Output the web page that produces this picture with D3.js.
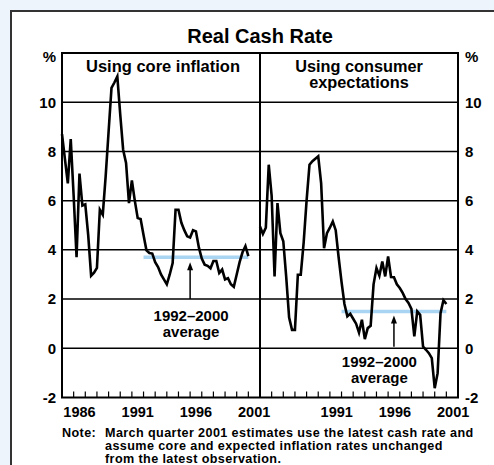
<!DOCTYPE html>
<html>
<head>
<meta charset="utf-8">
<script src="https://cdn.jsdelivr.net/npm/d3@7"></script>
<style>
  body { margin: 0; background: #eef4fb; }
  svg { display: block; font-family: 'Liberation Sans', Arial, Helvetica, sans-serif; font-weight: bold; }
</style>
</head>
<body>
<svg id="chart"></svg>
<script>
// quarterly observations, March quarter 1985 to March quarter 2001
const quarters = d3.range(65).map(i => 1985 + i * 0.25);

const coreReal = [8.7, 7.7, 6.7, 8.5, 6.2, 3.7, 7.1, 5.8, 5.85, 4.6,
  2.95, 3.07, 3.27, 5.63, 5.43, 7.0, 8.8, 10.58, 10.8, 11.05,
  9.5, 8.07, 7.53, 5.9, 6.82, 6.0, 5.29, 5.25, 4.6, 3.98,
  3.87, 3.85, 3.5, 3.3, 3.0, 2.8, 2.6, 3.0, 3.46, 5.63,
  5.63, 5.1, 4.8, 4.55, 4.5, 4.8, 4.75, 4.1, 3.65, 3.4,
  3.35, 3.25, 3.55, 3.55, 3.06, 3.2, 2.8, 2.85, 2.6, 2.5,
  3.0, 3.5, 3.9, 4.15, 3.75];

const expReal = [4.95, 4.65, 4.9, 7.46, 6.2, 2.92, 5.9, 4.68, 4.35, 2.9,
  1.25, 0.75, 0.75, 2.99, 2.99, 4.3, 6.0, 7.46, 7.6, 7.7,
  7.8, 6.7, 4.07, 4.68, 4.9, 5.15, 4.8, 3.7, 2.7, 1.8,
  1.3, 1.4, 1.2, 1.0, 0.64, 1.16, 0.37, 0.82, 0.91, 2.6,
  3.26, 2.95, 3.53, 2.92, 3.73, 2.9, 2.89, 2.6, 2.45, 2.25,
  2.0, 1.84, 1.6, 0.48, 1.5, 1.36, 0.07, -0.06, -0.2, -0.4,
  -1.62, -1.01, 1.43, 1.95, 1.8];

const coreAvg = 3.7;
const expAvg = 1.5;
const avgSpan = [1992, 2001];

const yTicks = [-2, 0, 2, 4, 6, 8, 10];
const leftYears = [1986, 1991, 1996, 2001];
const rightYears = [1991, 1996, 2001];
const noteLines = [
  'March quarter 2001 estimates use the latest cash rate and',
  'assume core and expected inflation rates unchanged',
  'from the latest observation.'
];

const width = 494;
const height = 465;

const svg = d3.select('#chart')
  .attr('width', width)
  .attr('height', height);

// white panel with frame
svg.append('rect')
  .attr('x', 11).attr('y', 11)
  .attr('width', 500).attr('height', 470)
  .attr('fill', '#fff')
  .attr('stroke', '#333')
  .attr('stroke-width', 2);

const plotTop = 53, plotBottom = 397.5, plotLeft = 62, plotMid = 260, plotRight = 458;

const y = d3.scaleLinear().domain([-2, 12]).range([plotBottom, plotTop]);
const xL = d3.scaleLinear().domain([1985, 2002]).range([plotLeft, plotMid]);
const xR = d3.scaleLinear().domain([1985, 2002]).range([plotMid, plotRight]);

// gridlines
svg.append('g').selectAll('line')
  .data(yTicks.filter(d => d > -2))
  .enter().append('line')
    .attr('x1', plotLeft).attr('x2', plotRight)
    .attr('y1', d => y(d)).attr('y2', d => y(d))
    .attr('stroke', '#000')
    .attr('stroke-width', 1.5);

// year ticks along bottom
[xL, xR].forEach(x => {
  svg.append('g').selectAll('line')
    .data(d3.range(1986, 2002))
    .enter().append('line')
      .attr('x1', d => x(d)).attr('x2', d => x(d))
      .attr('y1', plotBottom).attr('y2', plotBottom - 6)
      .attr('stroke', '#000')
      .attr('stroke-width', 1.2);
});

// 1992-2000 averages
const avgs = [[xL, coreAvg], [xR, expAvg]];
avgs.forEach(([x, v]) => {
  svg.append('line')
    .attr('x1', x(avgSpan[0])).attr('x2', x(avgSpan[1]))
    .attr('y1', y(v)).attr('y2', y(v))
    .attr('stroke', '#a9d4f2')
    .attr('stroke-width', 3.5);
});

// series
const series = [[xL, coreReal], [xR, expReal]];
series.forEach(([x, vals]) => {
  const line = d3.line()
    .x((d, i) => x(quarters[i]))
    .y(d => y(d));
  svg.append('path')
    .attr('d', line(vals))
    .attr('fill', 'none')
    .attr('stroke', '#000')
    .attr('stroke-width', 2.6)
    .attr('stroke-linejoin', 'miter');
});

// plot borders
svg.append('rect')
  .attr('x', plotLeft).attr('y', plotTop)
  .attr('width', plotRight - plotLeft).attr('height', plotBottom - plotTop)
  .attr('fill', 'none')
  .attr('stroke', '#000')
  .attr('stroke-width', 2);
svg.append('line')
  .attr('x1', plotMid).attr('x2', plotMid)
  .attr('y1', plotTop).attr('y2', plotBottom)
  .attr('stroke', '#000')
  .attr('stroke-width', 2);

// y labels both sides
const yl = svg.append('g').attr('font-size', 15);
yl.selectAll('.yl')
  .data(yTicks)
  .enter().append('text')
    .attr('x', 56).attr('y', d => y(d)).attr('dy', '0.36em')
    .attr('text-anchor', 'end')
    .text(d => d);
yl.selectAll('.yr')
  .data(yTicks)
  .enter().append('text')
    .attr('x', 465).attr('y', d => y(d)).attr('dy', '0.36em')
    .text(d => d);
yl.append('text').attr('x', 56).attr('y', 62).attr('text-anchor', 'end').text('%');
yl.append('text').attr('x', 465).attr('y', 62).text('%');

// x labels
const xl = svg.append('g').attr('font-size', 14.5).attr('text-anchor', 'middle');
xl.selectAll('.xl')
  .data(leftYears)
  .enter().append('text')
    .attr('x', d => xL(d + 0.5)).attr('y', 417)
    .text(d => d);
xl.selectAll('.xr')
  .data(rightYears)
  .enter().append('text')
    .attr('x', d => xR(d + 0.5) + 1).attr('y', 417)
    .text(d => d);

// titles
svg.append('text')
  .attr('x', plotMid).attr('y', 42.5)
  .attr('text-anchor', 'middle')
  .attr('font-size', 20)
  .text('Real Cash Rate');

svg.append('text')
  .attr('x', (plotLeft + plotMid) / 2 + 2).attr('y', 71.5)
  .attr('text-anchor', 'middle')
  .attr('font-size', 16.5)
  .text('Using core inflation');

const rtX = (plotMid + plotRight) / 2;
svg.append('text')
  .attr('x', rtX).attr('y', 71.5)
  .attr('text-anchor', 'middle')
  .attr('font-size', 16.3)
  .text('Using consumer');
svg.append('text')
  .attr('x', rtX).attr('y', 88)
  .attr('text-anchor', 'middle')
  .attr('font-size', 16.3)
  .text('expectations');

// arrows + labels
function arrow(x, yBase, yTip) {
  svg.append('line')
    .attr('x1', x).attr('x2', x)
    .attr('y1', yBase).attr('y2', yTip + 6)
    .attr('stroke', '#000')
    .attr('stroke-width', 1.5);
  svg.append('path')
    .attr('d', `M${x},${yTip} L${x - 3},${yTip + 8} L${x + 3},${yTip + 8} Z`)
    .attr('fill', '#000');
}
function label(x, y0) {
  const t = svg.append('text')
    .attr('text-anchor', 'middle')
    .attr('font-size', 15);
  t.append('tspan').attr('x', x).attr('y', y0).text('1992\u20132000');
  t.append('tspan').attr('x', x).attr('y', y0 + 16).text('average');
}
arrow(xL(1996), y(2), y(coreAvg) + 5);
label(xL(1996) + 1, y(2) + 21.5);
arrow(xR(1996.5), y(0) - 1.5, y(expAvg) + 4);
label(xR(1995.25), y(0) + 18.5);

// note
const note = svg.append('g').attr('font-size', 12.6).attr('letter-spacing', 0.4);
note.append('text').attr('x', 62).attr('y', 436.5).text('Note:');
note.selectAll('.n')
  .data(noteLines)
  .enter().append('text')
    .attr('x', 105)
    .attr('y', (d, i) => 436.5 + i * 13.3)
    .text(d => d);
</script>
</body>
</html>
